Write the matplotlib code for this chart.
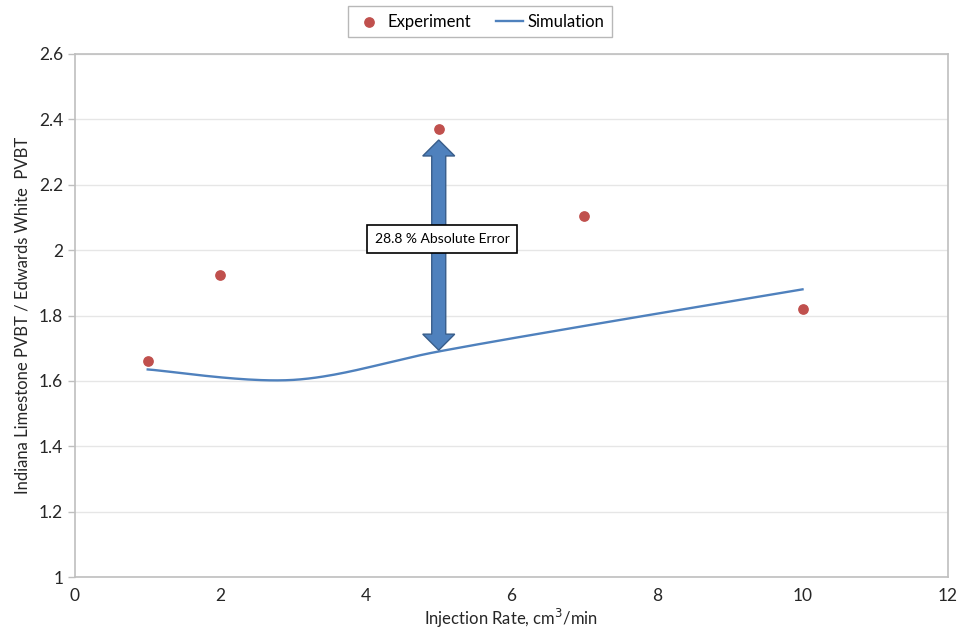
import numpy as np
import matplotlib.pyplot as plt
from matplotlib.patches import Polygon
from matplotlib.transforms import IdentityTransform

plt.rcParams['font.family'] = ['Lato', 'DejaVu Sans']

# experiment data
exp_rate = [1, 2, 5, 7, 10]
exp_ratio = [1.66, 1.924, 2.37, 2.104, 1.82]

# simulation data (Excel smoothed line)
sim_rate = [1, 3, 5, 7, 10]
sim_ratio = [1.635, 1.603, 1.69, 1.768, 1.88]

arrow_x = 5
arrow_top = 2.337
arrow_bottom = 1.694
error_label = '28.8 % Absolute Error'


def excel_smooth(x, y, n=40):
    # bezier smoothing in the style of excel's "smoothed line"
    x = np.asarray(x, float)
    y = np.asarray(y, float)
    px, py = [], []
    for i in range(len(x) - 1):
        x0, y0 = x[i], y[i]
        x3, y3 = x[i + 1], y[i + 1]
        xa, ya = (x[i - 1], y[i - 1]) if i > 0 else (x0, y0)
        xb, yb = (x[i + 2], y[i + 2]) if i + 2 < len(x) else (x3, y3)
        x1, y1 = x0 + (x3 - xa) / 6, y0 + (y3 - ya) / 6
        x2, y2 = x3 - (xb - x0) / 6, y3 - (yb - y0) / 6
        t = np.linspace(0, 1, n)
        px.extend((1-t)**3*x0 + 3*(1-t)**2*t*x1 + 3*(1-t)*t**2*x2 + t**3*x3)
        py.extend((1-t)**3*y0 + 3*(1-t)**2*t*y1 + 3*(1-t)*t**2*y2 + t**3*y3)
    return px, py


def double_arrow(ax, x, y0, y1, tail_w=14, head_w=32, head_l=16, **kw):
    # vertical block arrow, widths given in pixels
    cx, by = ax.transData.transform((x, y0))
    _, ty = ax.transData.transform((x, y1))
    tw, hw = tail_w / 2, head_w / 2
    verts = [(cx, ty), (cx + hw, ty - head_l), (cx + tw, ty - head_l),
             (cx + tw, by + head_l), (cx + hw, by + head_l), (cx, by),
             (cx - hw, by + head_l), (cx - tw, by + head_l),
             (cx - tw, ty - head_l), (cx - hw, ty - head_l)]
    ax.add_patch(Polygon(verts, closed=True, transform=IdentityTransform(), **kw))


fig = plt.figure(figsize=(9.61, 6.39), dpi=100)
ax = fig.add_axes([0.078, 0.097, 0.9085, 0.8185])

sx, sy = excel_smooth(sim_rate, sim_ratio)
ax.plot(sx, sy, color='#4F81BD', linewidth=1.7, label='Simulation', zorder=3)
ax.scatter(exp_rate, exp_ratio, s=45, color='#C0504D', label='Experiment', zorder=4)

ax.set_xlim(0, 12)
ax.set_ylim(1, 2.6)

double_arrow(ax, arrow_x, arrow_bottom, arrow_top, facecolor='#4F81BD',
             edgecolor='#385D8A', linewidth=1, zorder=5)
ax.text(5.05, 2.034, error_label, ha='center', va='center', fontsize=10, color='#000000',
        bbox=dict(boxstyle='square,pad=0.55', facecolor='white', edgecolor='black', linewidth=1.2),
        zorder=6)

ax.set_xticks(np.arange(0, 13, 2))
ax.set_yticks(np.arange(1, 2.61, 0.2))
ax.set_yticklabels(['1', '1.2', '1.4', '1.6', '1.8', '2', '2.2', '2.4', '2.6'])
ax.yaxis.grid(True, color='#E6E6E6', linewidth=1)
ax.set_axisbelow(True)
for sp in ax.spines.values():
    sp.set_color('#BFBFBF')
    sp.set_linewidth(1.2)
ax.tick_params(axis='both', colors='#BFBFBF', labelcolor='#262626', labelsize=12.5, length=5, width=1)
ax.tick_params(axis='x', length=0, pad=8)

ax.set_xlabel('Injection Rate, cm$^3$/min', fontsize=12, color='#262626', labelpad=2)
ax.set_ylabel('Indiana Limestone PVBT / Edwards White  PVBT', fontsize=12, color='#262626', labelpad=6)

handles, labels = ax.get_legend_handles_labels()
leg = fig.legend(handles[::-1], labels[::-1], loc='center', bbox_to_anchor=(0.4995, 0.966),
                 ncol=2, fontsize=12, frameon=True, fancybox=False, edgecolor='#A6A6A6',
                 handlelength=1.6, columnspacing=1.5, handletextpad=0.3, borderpad=0.45)
leg.get_frame().set_linewidth(1)

fig.savefig('out.png', dpi=100)
